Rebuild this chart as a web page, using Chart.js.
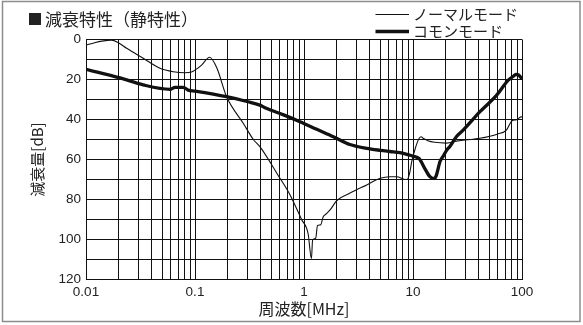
<!DOCTYPE html>
<html><head><meta charset="utf-8">
<script src="https://cdn.jsdelivr.net/npm/chart.js@4/dist/chart.umd.min.js"></script>
<style>html,body{margin:0;padding:0;background:#fff;}#wrap{width:583px;height:325px;}</style>
</head><body><div id="wrap"><canvas id="c" width="583" height="325"></canvas></div>
<script>
const titleMark = '■';
const titleText = '減衰特性（静特性）';
const seriesNames = ['ノーマルモード', 'コモンモード'];
const xAxisTitle = '周波数[MHz]';
const yAxisTitle = '減衰量[dB]';

const normalFreq = [0.01, 0.012, 0.014, 0.0172, 0.0198, 0.0236, 0.0335, 0.0477, 0.0632, 0.081, 0.093, 0.1, 0.115, 0.136, 0.158, 0.195, 0.278, 0.343, 0.394, 0.58, 0.745, 0.95, 1.09, 1.17, 1.2, 1.28, 1.33, 1.42, 1.5, 1.6, 1.78, 2.0, 2.6, 3.76, 5.0, 6.15, 7.1, 8.45, 8.87, 9.3, 9.8, 10.3, 10.8, 11.4, 11.9, 12.4, 13.7, 15.8, 20.4, 25, 41, 60, 72, 81, 89, 96, 100];
const normalDb = [2.8, 1.6, 0.8, 0.3, 1.6, 4.4, 9.4, 14.4, 16.1, 16.6, 16.2, 15.3, 12.8, 8.9, 14, 28.6, 42, 50, 53.6, 68, 77.7, 90, 97, 109.5, 100.2, 99.4, 93, 92.7, 88.6, 87.2, 84.4, 80.5, 77, 72.7, 69.4, 68.6, 68.6, 70, 69.9, 66.9, 60.3, 56, 52.3, 49.4, 48.6, 49.4, 50.6, 51.4, 51.8, 50.8, 49.4, 47.2, 45.3, 40.6, 40.1, 38.9, 38.6];

const commonFreq = [0.01, 0.0205, 0.0335, 0.059, 0.0655, 0.078, 0.0866, 0.1, 0.195, 0.3, 0.394, 0.45, 0.65, 0.918, 1.31, 1.86, 2.64, 3.76, 5.0, 6.15, 7.6, 9.3, 10, 11.4, 12.8, 14.3, 15.2, 15.8, 16.4, 17.7, 18.8, 20.4, 21.7, 25, 29, 41.2, 58.6, 74.8, 83.3, 88, 93.5, 98.8, 100];
const commonDb = [14.9, 19.2, 22.7, 24.9, 23.9, 23.9, 25.3, 25.8, 28.6, 31, 32.8, 34.4, 37.7, 41.1, 44.9, 48.6, 52.5, 54.4, 55.4, 56, 56.6, 57.8, 58.3, 59.6, 64.4, 68.6, 69.4, 69.4, 67.8, 61, 58.6, 55.3, 53.6, 48.6, 45.2, 36.1, 27.8, 20.3, 18.4, 17.4, 17.8, 19.4, 19.8];

const xDecades = [0.01, 0.1, 1, 10, 100];
const xTickLabels = ['0.01', '0.1', '1', '10', '100'];
const yTickLabels = ['0', '20', '40', '60', '80', '100', '120'];

const xGridValues = [];
xDecades.forEach((d, i) => {
  if (i === xDecades.length - 1) { xGridValues.push(d); return; }
  for (let m = 1; m <= 9; m++) xGridValues.push(+(d * m).toPrecision(6));
});

const toPts = (xs, ys) => xs.map((x, i) => ({x: x, y: ys[i]}));
const tickFont = {family: "'Liberation Sans', Arial, sans-serif", size: 13.5};
const cjk = "'Noto Sans CJK JP', 'Noto Sans', sans-serif";

const decor = {
  id: 'decor',
  beforeDraw(chart) {
    const ctx = chart.ctx;
    ctx.save();
    ctx.fillStyle = '#fff';
    ctx.fillRect(0, 0, chart.width, chart.height);
    ctx.strokeStyle = '#8c8c8c';
    ctx.lineWidth = 1.5;
    ctx.strokeRect(2.5, 1.5, 577.5, 320);
    ctx.restore();
  },
  afterDraw(chart) {
    const ctx = chart.ctx;
    ctx.save();
    ctx.fillStyle = '#222';
    ctx.textBaseline = 'middle';
    ctx.textAlign = 'left';
    ctx.font = '15px ' + cjk;
    ctx.fillText(titleMark, 27.5, 19.5);
    ctx.font = '17px ' + cjk;
    ctx.fillText(titleText, 45, 19.5);
    // legend
    const ys = [14.5, 31.5];
    const ws = [1, 3.5];
    ctx.font = '15px ' + cjk;
    for (let i = 0; i < 2; i++) {
      ctx.strokeStyle = '#111';
      ctx.lineWidth = ws[i];
      ctx.beginPath();
      ctx.moveTo(375.5, ys[i]);
      ctx.lineTo(409, ys[i]);
      ctx.stroke();
      ctx.fillText(seriesNames[i], 413, ys[i]);
    }
    ctx.restore();
  }
};

new Chart(document.getElementById('c'), {
  type: 'line',
  data: {
    datasets: [
      {label: seriesNames[0], data: toPts(normalFreq, normalDb), borderColor: '#111', borderWidth: 1.1, pointRadius: 0, cubicInterpolationMode: 'monotone', fill: false},
      {label: seriesNames[1], data: toPts(commonFreq, commonDb), borderColor: '#111', borderWidth: 3.3, pointRadius: 0, cubicInterpolationMode: 'monotone', fill: false}
    ]
  },
  options: {
    responsive: false,
    animation: false,
    devicePixelRatio: 1,
    layout: {padding: {left: 20, right: 61, top: 39.5, bottom: 6}},
    plugins: {legend: {display: false}, tooltip: {enabled: false}, title: {display: false}},
    scales: {
      x: {
        type: 'logarithmic', min: 0.01, max: 100,
        afterBuildTicks: (s) => { s.ticks = xGridValues.map(v => ({value: v})); },
        afterFit: (s) => { s.height = 39.5; },
        grid: {color: '#111', lineWidth: 1, drawTicks: false},
        border: {color: '#111', width: 1},
        ticks: {autoSkip: false, maxRotation: 0, padding: 5, color: '#222', font: tickFont,
          callback: (v) => { const i = xDecades.findIndex(d => Math.abs(d - v) < d * 1e-6); return i >= 0 ? xTickLabels[i] : ''; }},
        title: {display: true, text: xAxisTitle, color: '#222', font: {family: cjk, size: 16}, padding: {top: 0, bottom: 0}}
      },
      y: {
        type: 'linear', reverse: true, min: 0, max: 120,
        afterFit: (s) => { s.width = 66; },
        grid: {color: '#111', lineWidth: 1, drawTicks: false},
        border: {color: '#111', width: 1},
        ticks: {stepSize: 10, autoSkip: false, padding: 5, color: '#222', font: tickFont,
          callback: (v) => { const i = yTickLabels.indexOf(String(v)); return i >= 0 ? yTickLabels[i] : ''; }},
        title: {display: true, text: yAxisTitle, color: '#222', font: {family: cjk, size: 15}, padding: {top: 8, bottom: 0}}
      }
    }
  },
  plugins: [decor]
});
</script>
</body></html>
